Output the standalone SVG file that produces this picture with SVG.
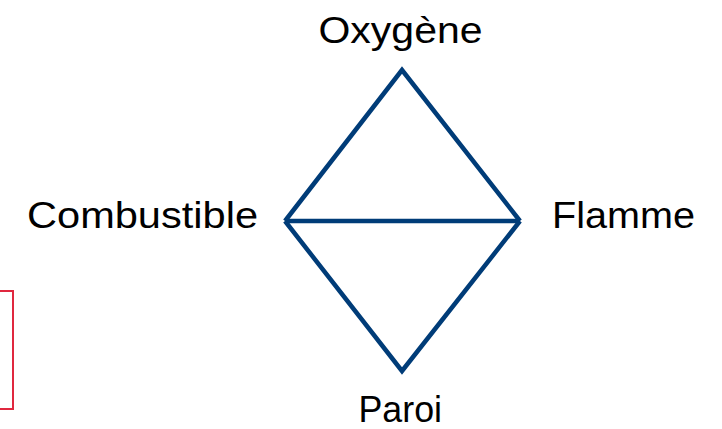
<svg xmlns="http://www.w3.org/2000/svg" width="722" height="429" viewBox="0 0 722 429">
<style>
.lbl{font-family:"Liberation Sans",Arial,Helvetica,sans-serif;font-size:37px;fill:#000}
.edge{stroke:#003c78;stroke-width:4.5;fill:none;stroke-linejoin:miter;stroke-linecap:butt}
</style>
<rect x="0" y="0" width="722" height="429" fill="#fff"/>
<rect id="frame" x="-10" y="291" width="23" height="118" fill="none" stroke="#e0283f" stroke-width="2"/>
<g id="connectors">
<polyline class="edge" points="285,221 402,70 520,221"/>
<polyline class="edge" points="285,221 402,371 520,221"/>
<line class="edge" x1="285" y1="221" x2="520" y2="221"/>
</g>
<g id="oxygene"><text class="lbl" x="318.5" y="42.5" textLength="164" lengthAdjust="spacingAndGlyphs">Oxygène</text></g>
<g id="combustible"><text class="lbl" x="27" y="227.5" textLength="231" lengthAdjust="spacingAndGlyphs">Combustible</text></g>
<g id="flamme"><text class="lbl" x="552" y="227.5" textLength="143" lengthAdjust="spacingAndGlyphs">Flamme</text></g>
<g id="paroi"><text class="lbl" x="358.5" y="422" textLength="83.5" lengthAdjust="spacingAndGlyphs">Paroi</text></g>
</svg>
